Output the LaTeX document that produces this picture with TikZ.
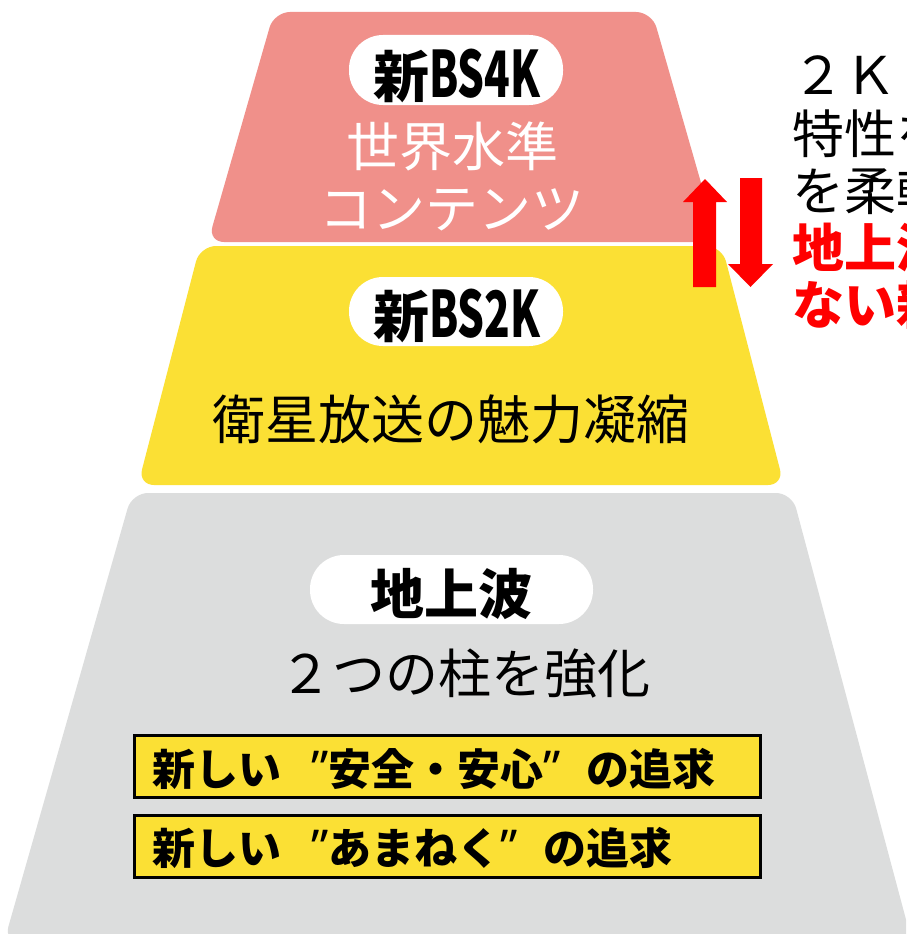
\documentclass[tikz,border=0pt]{standalone}
\usepackage{graphicx}
\usepackage{fontspec}
\setmainfont{Noto Sans CJK JP}
\newfontfamily\latinb{Noto Sans}
\definecolor{pinkc}{HTML}{F0908A}
\definecolor{yelc}{HTML}{FBE034}
\definecolor{grayc}{HTML}{DCDDDD}
\definecolor{redc}{HTML}{FF0000}
\newcommand{\fs}[1]{\fontsize{#1}{#1}\selectfont}
\newcommand{\cnd}[1]{{\fs{64}\scalebox{0.66}[1]{#1}}}
\newcommand{\qq}{{\latinb\bfseries\fs{48}”}}
\begin{document}
\begin{tikzpicture}[x=1pt,y=-1pt,
  tier/.style={rounded corners=16pt},
  pill/.style={fill=white, rounded corners=34pt},
  txt/.style={inner sep=0pt, anchor=base},
  rtxt/.style={inner sep=0pt, anchor=base west, font=\fs{52}},
  goal/.style={fill=yelc, draw=black, line width=3pt},
  arr/.style={fill=redc, draw=none}]
\useasboundingbox (0,0) rectangle (906,934);
\clip (0,0) rectangle (906,934);
\fill[white] (0,0) rectangle (906,934);
% tiers
\fill[pinkc, tier] (274,12) -- (652,12) -- (718,242) -- (208,242) -- cycle;
\fill[yelc, tier] (200,246) -- (722,246) -- (784,485) -- (138,485) -- cycle;
\fill[grayc, tier] (132,493) -- (792,493) -- (912,942) -- (4,942) -- cycle;
% pills
\fill[pill] (349,35) rectangle (563,105);
\fill[pill] (349,277) rectangle (563,346);
\fill[pill] (310,555) rectangle (593,624);
% texts
\node[txt, font=\fs{56}\bfseries] (t4k) at (457,97) {新\cnd{BS4K}};
\node[txt, font=\fs{53}, text=white] (w1) at (452,166) {世界水準};
\node[txt, font=\fs{53}, text=white] (w2) at (452,228) {コンテンツ};
\node[txt, font=\fs{56}\bfseries] (t2k) at (457,337) {新\cnd{BS2K}};
\node[txt, font=\fs{53}] (m1) at (451,439) {衛星放送の魅力凝縮};
\node[txt, font=\fs{54}\bfseries] (tg) at (451,614) {地上波};
\node[txt, font=\fs{53}] (m2) at (465,693) {２つの柱を強化};
% goal boxes
\draw[goal] (134,735) rectangle (760,797);
\draw[goal] (134,815) rectangle (760,877);
\node[inner sep=0pt, anchor=base west, font=\fs{43}\bfseries] (g1) at (152,785)
  {新しい\hspace{0.7em}\qq 安全・安心\qq\hspace{0.6em}の追求};
\node[inner sep=0pt, anchor=base west, font=\fs{43}\bfseries] (g2) at (152,864)
  {新しい\hspace{0.7em}\qq あまねく\qq\hspace{0.6em}の追求};
% arrows
\fill[arr] (693,287) -- (693,202) -- (683,202) -- (705,179) -- (727,202) -- (716,202) -- (716,287) -- cycle;
\fill[arr] (740,178) -- (762,178) -- (762,264) -- (773,264) -- (750.5,287) -- (728,264) -- (740,264) -- cycle;
% right-hand text
\node[rtxt] (r1) at (792,95) {２Ｋ};
\node[rtxt] (r2) at (792,153) {特性を};
\node[rtxt] (r3) at (792,210) {を柔軟};
\node[rtxt, text=redc, font=\fs{52}\bfseries] (r4) at (792,267) {地上波};
\node[rtxt, text=redc, font=\fs{52}\bfseries] (r5) at (792,324) {ない新};
\end{tikzpicture}
\end{document}
